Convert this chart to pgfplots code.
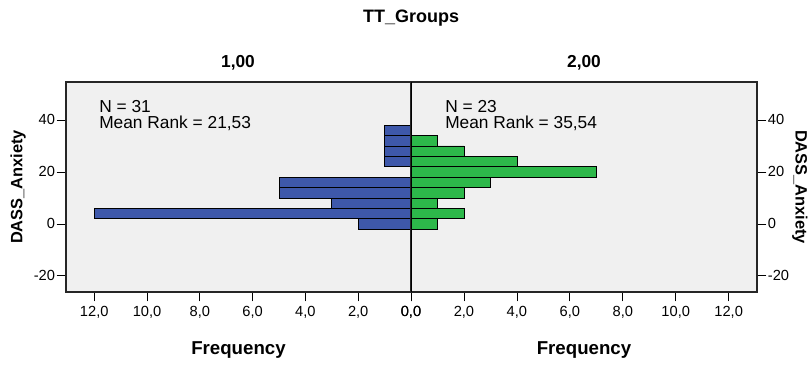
\documentclass[border=0pt]{standalone}
\usepackage{pgfplots}
\pgfplotsset{compat=1.18}
\usepackage{fontspec}
\setmainfont{Liberation Sans}
\definecolor{bg}{RGB}{240,240,240}
\definecolor{barblue}{RGB}{62,88,170}
\definecolor{bargreen}{RGB}{45,184,74}
\pgfplotsset{pyr/.style={
  scale only axis, height=157.5pt,
  ymin=-26.2, ymax=54.6, xmin=0, xmax=13.07,
  axis background/.style={fill=bg},
  axis line style={draw=black!85, line width=0.8pt},
  tick align=outside, major tick length=7pt,
  tick style={black, line width=0.6pt},
  xtick={0,2,4,6,8,10,12},
  xticklabels={{0,0},{2,0},{4,0},{6,0},{8,0},{10,0},{12,0}},
  ytick={-20,0,20,40}, yticklabels={-20,0,20,40},
  tick label style={font=\fontsize{11}{13}\selectfont},
  yticklabel style={inner sep=1pt},
  xtick pos=bottom,
  xbar, bar width=4,
  xlabel={Frequency},
  xlabel style={font=\bfseries\fontsize{14}{16}\selectfont, at={(axis description cs:0.5,-0.276)}, anchor=center},
  ylabel={DASS\_Anxiety},
}}
\begin{document}
\begin{tikzpicture}
\path (0,0) rectangle (609pt,273.75pt);
\begin{axis}[pyr, at={(49.5pt,54.75pt)}, anchor=south west, width=258.75pt,
  x dir=reverse, ytick pos=left,
  ylabel style={font=\bfseries\fontsize{12.3}{14}\selectfont, at={(axis description cs:-0.139,0.5)}, anchor=center}]
\addplot[fill=barblue, draw=black, line width=0.6pt] coordinates {
(1,36) (1,32) (1,28) (1,24) (5,16) (5,12) (3,8) (12,4) (2,0)};
\draw[black, line width=1.3pt] (axis cs:0,-26.2) -- (axis cs:0,54.6);
\end{axis}
\begin{axis}[pyr, at={(308.25pt,54.75pt)}, anchor=south west, width=259.5pt,
  ytick pos=right, yticklabel pos=right,
  ylabel style={font=\bfseries\fontsize{12.3}{14}\selectfont, at={(axis description cs:1.124,0.5)}, anchor=center, rotate=180}]
\addplot[fill=bargreen, draw=black, line width=0.6pt] coordinates {
(1,32) (2,28) (4,24) (7,20) (3,16) (2,12) (1,8) (2,4) (1,0)};
\draw[black, line width=1.3pt] (axis cs:0,-26.2) -- (axis cs:0,54.6);
\end{axis}
\node[font=\bfseries\fontsize{13.5}{16}\selectfont] at (308.25pt,260.25pt) {TT\_Groups};
\node[font=\bfseries\fontsize{13}{16}\selectfont] at (178.5pt,226.5pt) {1,00};
\node[font=\bfseries\fontsize{13}{16}\selectfont] at (438pt,226.5pt) {2,00};
\node[font=\fontsize{13}{15}\selectfont, anchor=base west, inner sep=0pt] at (74.25pt,189.75pt) {N = 31};
\node[font=\fontsize{13}{15}\selectfont, anchor=base west, inner sep=0pt] at (74.25pt,177.5pt) {Mean Rank = 21,53};
\node[font=\fontsize{13}{15}\selectfont, anchor=base west, inner sep=0pt] at (333.75pt,189.75pt) {N = 23};
\node[font=\fontsize{13}{15}\selectfont, anchor=base west, inner sep=0pt] at (333.75pt,177.5pt) {Mean Rank = 35,54};
\end{tikzpicture}
\end{document}
